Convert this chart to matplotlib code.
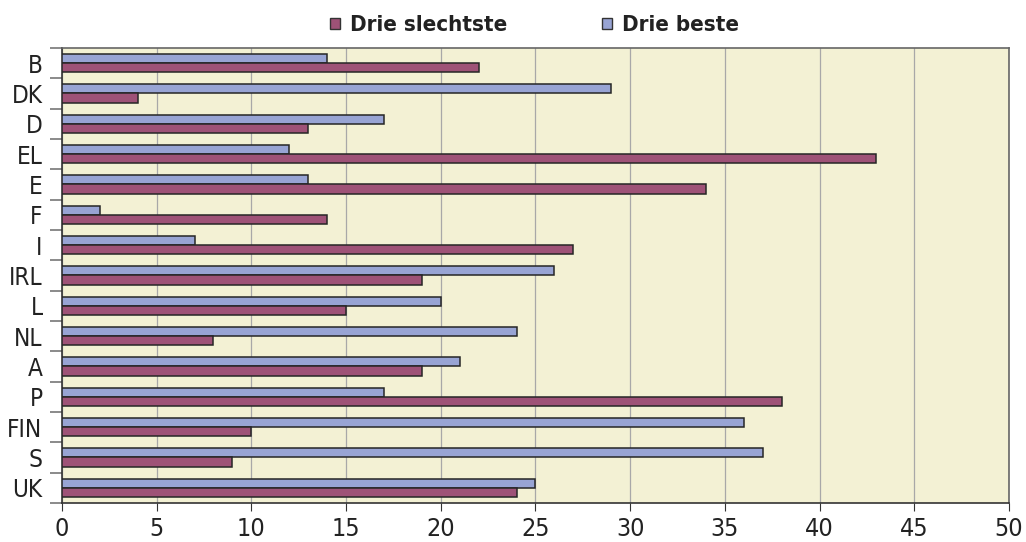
import numpy as np
import matplotlib.pyplot as plt
from matplotlib.patches import Patch

# landen en waarden
landen = ["B", "DK", "D", "EL", "E", "F", "I", "IRL", "L", "NL", "A", "P", "FIN", "S", "UK"]
drie_beste = [14, 29, 17, 12, 13, 2, 7, 26, 20, 24, 21, 17, 36, 37, 25]
drie_slechtste = [22, 4, 13, 43, 34, 14, 27, 19, 15, 8, 19, 38, 10, 9, 24]

kleur_slecht = "#9E5277"
kleur_best = "#98A4D4"
achtergrond = "#F3F1D4"

plt.rcParams['font.family'] = ['DejaVu Sans']
plt.rcParams['font.stretch'] = 'condensed'

fig = plt.figure(figsize=(10.26, 5.42), dpi=100)
ax = fig.add_axes([0.0604, 0.072, 0.923, 0.8395])
ax.set_facecolor(achtergrond)

y = np.arange(len(landen))
h = 0.3
ax.barh(y - h / 2, drie_beste, height=h, color=kleur_best, edgecolor="#262626", linewidth=1.1, zorder=3)
ax.barh(y + h / 2, drie_slechtste, height=h, color=kleur_slecht, edgecolor="#262626", linewidth=1.1, zorder=3)

ax.set_xlim(0, 50)
ax.set_ylim(len(landen) - 0.5, -0.5)
ax.set_xticks(np.arange(0, 51, 5))
ax.tick_params(axis="x", labelsize=18, length=6, color="#333333", labelcolor="#222222", pad=4)

# tick streepjes tussen de landen, labels in het midden
ax.set_yticks(np.arange(-0.5, len(landen), 1))
ax.set_yticklabels([])
ax.set_yticks(y, minor=True)
ax.set_yticklabels(landen, minor=True)
ax.tick_params(axis="y", which="major", length=9, color="#777777", width=1.2)
ax.tick_params(axis="y", which="minor", length=0, labelsize=17.5, labelcolor="#222222", pad=14)

ax.grid(axis="x", color="#a8a8a8", linewidth=0.9, zorder=0)
ax.set_axisbelow(True)
for s in ax.spines.values():
    s.set_color("#666666")
    s.set_linewidth(1.2)
ax.spines["left"].set_color("#333333")
ax.spines["bottom"].set_color("#333333")

# legenda
handles = [Patch(facecolor=kleur_slecht, edgecolor="#333333", label="Drie slechtste"),
           Patch(facecolor=kleur_best, edgecolor="#333333", label="Drie beste")]
leg = fig.legend(handles=handles, loc="center", bbox_to_anchor=(0.521, 0.953), ncol=2, frameon=False,
                 handlelength=0.42, handleheight=0.42, handletextpad=0.45, columnspacing=4.3,
                 prop={'size': 16, 'weight': 'bold', 'stretch': 'condensed'})
for t in leg.get_texts():
    t.set_color("#222222")

plt.savefig("out.png", dpi=100)
